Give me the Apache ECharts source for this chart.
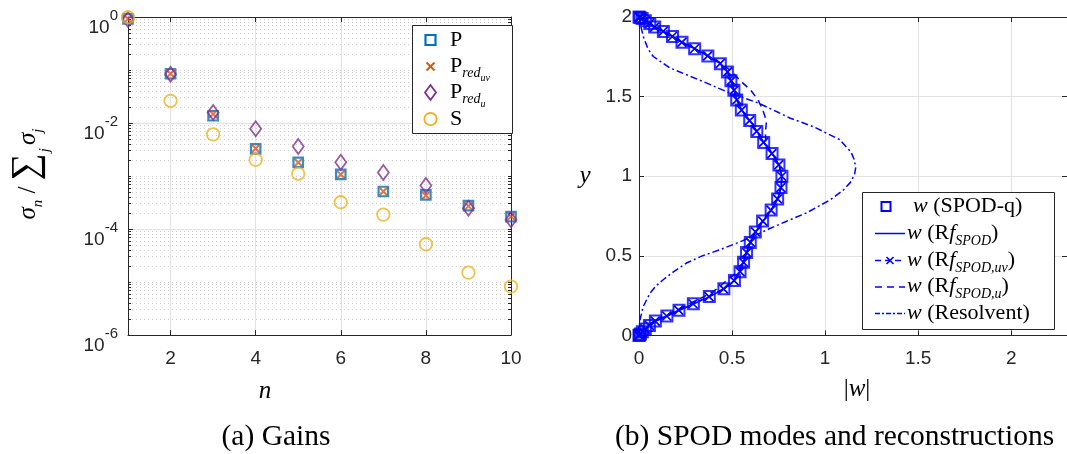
<!DOCTYPE html>
<html><head><meta charset="utf-8">
<script src="https://cdn.jsdelivr.net/npm/echarts@6/dist/echarts.min.js"></script>
<style>html,body{margin:0;padding:0;background:#fff}#c{width:1067px;height:454px}</style>
</head><body><div id="c"></div>
<script>
// ---------- data: (a) gains ----------
const nModes = [1, 2, 3, 4, 5, 6, 7, 8, 9, 10];
const gainP      = [0.92, 0.085, 0.0137, 0.00326, 0.0018, 0.00107, 0.00051, 0.00044, 0.000277, 0.000171];
const gainPredUV = [0.92, 0.085, 0.0147, 0.0033, 0.0018, 0.00107, 0.00051, 0.00043, 0.00027, 0.000171];
const gainPredU  = [0.90, 0.083, 0.0158, 0.0078, 0.0036, 0.00182, 0.00116, 0.00066, 0.000247, 0.000149];
const gainS      = [0.99, 0.0262, 0.0061, 0.00202, 0.0011, 0.00032, 0.000187, 0.0000515, 0.000015, 0.0000082];
const nTickValues = [2, 4, 6, 8, 10];
const logMajorTicks = [1e-6, 1e-4, 1e-2, 1];

// ---------- data: (b) SPOD modes ----------
const yGrid = [0, 0.0025, 0.0102, 0.0228, 0.0405, 0.0630, 0.0904, 0.1223, 0.1588, 0.1995, 0.2443, 0.2929, 0.3451, 0.4007, 0.4594,
  0.5207, 0.5846, 0.6505, 0.7183, 0.7874, 0.8577, 0.9287, 1.0, 1.0713, 1.1423, 1.2126, 1.2817, 1.3495, 1.4154, 1.4793,
  1.5406, 1.5994, 1.6549, 1.7071, 1.7557, 1.8005, 1.8412, 1.8777, 1.9096, 1.9370, 1.9595, 1.9772, 1.9898, 1.9975, 2.0];
const wSPODq = [0, 0.002, 0.008, 0.018, 0.034, 0.056, 0.088, 0.15, 0.215, 0.292, 0.378, 0.456, 0.513, 0.543, 0.562,
  0.578, 0.598, 0.625, 0.664, 0.71, 0.745, 0.763, 0.768, 0.752, 0.715, 0.67, 0.633, 0.595, 0.55, 0.525,
  0.51, 0.494, 0.475, 0.437, 0.37, 0.299, 0.231, 0.18, 0.131, 0.084, 0.058, 0.034, 0.017, 0.005, 0];
const wRfSPOD = [0, 0.002, 0.008, 0.019, 0.035, 0.057, 0.09, 0.152, 0.218, 0.295, 0.38, 0.458, 0.512, 0.542, 0.561,
  0.577, 0.597, 0.626, 0.666, 0.711, 0.746, 0.764, 0.769, 0.753, 0.716, 0.671, 0.634, 0.596, 0.552, 0.526,
  0.511, 0.495, 0.476, 0.439, 0.372, 0.3, 0.232, 0.181, 0.132, 0.085, 0.058, 0.034, 0.017, 0.005, 0];
const wRfSPODuv = [0, 0.002, 0.008, 0.018, 0.034, 0.055, 0.087, 0.149, 0.213, 0.29, 0.376, 0.454, 0.511, 0.543, 0.562,
  0.579, 0.599, 0.626, 0.665, 0.709, 0.744, 0.762, 0.767, 0.751, 0.714, 0.669, 0.632, 0.594, 0.551, 0.526,
  0.511, 0.495, 0.476, 0.436, 0.369, 0.298, 0.23, 0.179, 0.13, 0.084, 0.057, 0.034, 0.017, 0.005, 0];
const wRfSPODu = [0, 0.002, 0.008, 0.018, 0.033, 0.054, 0.085, 0.14, 0.2, 0.27, 0.35, 0.42, 0.47, 0.53, 0.56,
  0.578, 0.598, 0.626, 0.665, 0.71, 0.745, 0.763, 0.768, 0.752, 0.716, 0.68, 0.68, 0.685, 0.665, 0.64,
  0.60, 0.545, 0.50, 0.445, 0.372, 0.3, 0.232, 0.18, 0.131, 0.084, 0.058, 0.034, 0.017, 0.005, 0];
const yRes = [0, 0.03, 0.1, 0.18, 0.266, 0.31, 0.35, 0.40, 0.455, 0.50, 0.538, 0.58, 0.622, 0.67, 0.716, 0.77, 0.85, 0.91,
  0.96, 1.01, 1.05, 1.10, 1.15, 1.23, 1.31, 1.366, 1.40, 1.46, 1.523, 1.595, 1.68, 1.752, 1.80, 1.878, 1.95, 2.0];
const wRes = [0, 0.001, 0.006, 0.022, 0.059, 0.09, 0.13, 0.185, 0.255, 0.34, 0.434, 0.525, 0.612, 0.70, 0.79, 0.90, 1.025, 1.095,
  1.135, 1.158, 1.164, 1.158, 1.14, 1.078, 0.94, 0.81, 0.75, 0.64, 0.487, 0.344, 0.166, 0.077, 0.048, 0.023, 0.008, 0];
const wTickValues = [0, 0.5, 1, 1.5, 2];

// ---------- styling ----------
const axisColor = '#262626';
const gridCol = '#e2e2e2';
const minorCol = '#cfcfcf';
const tickFont = 'Liberation Sans';
const serif = 'Liberation Serif';
const cP = '#0072BD', cUV = '#D95319', cU = '#7E2F8E', cS = '#EDB120', blue = '#0000FF';
const xPath = 'path://M0,0L10,10M10,0L0,10';

const logMinor = [];
for (let e = -6; e < 0; e++) {
  for (let m = 2; m <= 9; m++) logMinor.push(+(m * Math.pow(10, e)).toPrecision(3));
  if (e % 2 !== 0) logMinor.push(Math.pow(10, e));
}
logMinor.sort((a, b) => a - b);

function supLabel(v) {
  const e = Math.round(Math.log10(v));
  return '{b|10}{s|' + e + '}';
}

const chart = echarts.init(document.getElementById('c'), null, {renderer: 'canvas'});

const tickLine = {color: axisColor, width: 1};
const option = {
  animation: false,
  backgroundColor: '#fff',
  grid: [
    {left: 128, top: 17, width: 383, height: 318},
    {left: 639, top: 17, width: 430, height: 318.5}
  ],
  xAxis: [
    {gridIndex: 0, type: 'value', min: 1, max: 10, position: 'bottom',
      axisLine: {show: true, onZero: false, lineStyle: tickLine},
      axisTick: {show: true, inside: true, length: 5, customValues: nTickValues, lineStyle: tickLine},
      axisLabel: {customValues: nTickValues, fontSize: 19, color: axisColor, margin: 14, fontFamily: tickFont},
      splitLine: {show: true, lineStyle: {color: gridCol}}},
    {gridIndex: 0, type: 'value', min: 1, max: 10, position: 'top',
      axisLine: {show: true, onZero: false, lineStyle: tickLine},
      axisTick: {show: true, inside: true, length: 5, customValues: nTickValues, lineStyle: tickLine},
      axisLabel: {show: false}, splitLine: {show: false}},
    {gridIndex: 1, type: 'value', min: 0, max: 2.3, position: 'bottom',
      axisLine: {show: true, onZero: false, lineStyle: tickLine},
      axisTick: {show: true, inside: true, length: 5, customValues: wTickValues, lineStyle: tickLine},
      axisLabel: {customValues: wTickValues, fontSize: 19, color: axisColor, margin: 14, fontFamily: tickFont},
      splitLine: {show: true, lineStyle: {color: gridCol}}},
    {gridIndex: 1, type: 'value', min: 0, max: 2.3, position: 'top',
      axisLine: {show: true, onZero: false, lineStyle: tickLine},
      axisTick: {show: true, inside: true, length: 5, customValues: wTickValues, lineStyle: tickLine},
      axisLabel: {show: false}, splitLine: {show: false}}
  ],
  yAxis: [
    {gridIndex: 0, type: 'log', logBase: 10, min: 1e-6, max: 1, position: 'left',
      axisLine: {show: true, onZero: false, lineStyle: tickLine},
      axisTick: {show: true, inside: true, length: 5, customValues: logMajorTicks, lineStyle: tickLine},
      axisLabel: {customValues: logMajorTicks, margin: 10, color: axisColor, formatter: supLabel,
        rich: {
          b: {fontSize: 19, fontFamily: tickFont, color: axisColor, lineHeight: 18, verticalAlign: 'top', padding: [10, 0, 0, 0]},
          s: {fontSize: 15, fontFamily: tickFont, color: axisColor, lineHeight: 15, verticalAlign: 'top', padding: [0, 0, 0, 0]}
        }},
      splitLine: {show: true, lineStyle: {color: gridCol}}},
    {gridIndex: 0, type: 'log', logBase: 10, min: 1e-6, max: 1, position: 'left',
      axisLine: {show: false},
      axisTick: {show: true, inside: true, length: 3, customValues: logMinor, lineStyle: tickLine},
      axisLabel: {show: false},
      splitLine: {show: true, lineStyle: {color: minorCol, type: [1, 3]}}},
    {gridIndex: 0, type: 'log', logBase: 10, min: 1e-6, max: 1, position: 'right',
      axisLine: {show: true, onZero: false, lineStyle: tickLine},
      axisTick: {show: true, inside: true, length: 3, customValues: logMinor.concat(logMajorTicks), lineStyle: tickLine},
      axisLabel: {show: false}, splitLine: {show: false}},
    {gridIndex: 1, type: 'value', min: 0, max: 2, interval: 0.5, position: 'left',
      axisLine: {show: true, onZero: false, lineStyle: tickLine},
      axisTick: {show: true, inside: true, length: 5, lineStyle: tickLine},
      axisLabel: {fontSize: 19, color: axisColor, margin: 7, fontFamily: tickFont},
      splitLine: {show: true, lineStyle: {color: gridCol}}},
    {gridIndex: 1, type: 'value', min: 0, max: 2, interval: 0.5, position: 'right',
      axisLine: {show: true, onZero: false, lineStyle: tickLine},
      axisTick: {show: true, inside: true, length: 5, lineStyle: tickLine},
      axisLabel: {show: false}, splitLine: {show: false}}
  ],
  series: [
    {name: 'P', type: 'scatter', xAxisIndex: 0, yAxisIndex: 0, clip: false, symbol: 'rect', symbolSize: 9.5,
      itemStyle: {color: 'none', borderColor: cP, borderWidth: 2.2}, data: nModes.map((n, i) => [n, gainP[i]])},
    {name: 'P_red_uv', type: 'scatter', xAxisIndex: 0, yAxisIndex: 0, clip: false, symbol: xPath, symbolSize: 8,
      itemStyle: {color: 'none', borderColor: cUV, borderWidth: 2}, data: nModes.map((n, i) => [n, gainPredUV[i]])},
    {name: 'P_red_u', type: 'scatter', xAxisIndex: 0, yAxisIndex: 0, clip: false, symbol: 'diamond', symbolSize: [11, 15],
      itemStyle: {color: 'none', borderColor: cU, borderWidth: 1.8}, data: nModes.map((n, i) => [n, gainPredU[i]])},
    {name: 'S', type: 'scatter', xAxisIndex: 0, yAxisIndex: 0, clip: false, symbol: 'circle', symbolSize: 12.5,
      itemStyle: {color: 'none', borderColor: cS, borderWidth: 1.8}, data: nModes.map((n, i) => [n, gainS[i]])},

    {name: 'w (SPOD-q)', type: 'scatter', xAxisIndex: 2, yAxisIndex: 3, clip: false, symbol: 'rect', symbolSize: 11,
      itemStyle: {color: 'none', borderColor: blue, borderWidth: 2}, data: yGrid.map((y, i) => [wSPODq[i], y])},
    {name: 'w (Rf_SPOD)', type: 'line', xAxisIndex: 2, yAxisIndex: 3, clip: false, showSymbol: false, symbol: 'none',
      lineStyle: {color: blue, width: 1.5}, data: yGrid.map((y, i) => [wRfSPOD[i], y])},
    {name: 'w (Rf_SPOD,uv)', type: 'line', xAxisIndex: 2, yAxisIndex: 3, clip: false, showSymbol: true, showAllSymbol: true,
      symbol: xPath, symbolSize: 9, itemStyle: {color: 'none', borderColor: blue, borderWidth: 1.7},
      lineStyle: {color: blue, width: 1.5, type: [6, 4]}, data: yGrid.map((y, i) => [wRfSPODuv[i], y])},
    {name: 'w (Rf_SPOD,u)', type: 'line', xAxisIndex: 2, yAxisIndex: 3, clip: false, showSymbol: false, symbol: 'none',
      lineStyle: {color: blue, width: 1.5, type: [7, 5]}, data: yGrid.map((y, i) => [wRfSPODu[i], y])},
    {name: 'w (Resolvent)', type: 'line', xAxisIndex: 2, yAxisIndex: 3, clip: false, showSymbol: false, symbol: 'none',
      lineStyle: {color: blue, width: 1.5, type: [7, 3, 2, 3]}, data: yRes.map((y, i) => [wRes[i], y])}
  ],
  graphic: []
};

// ---- legends & labels built as graphic elements ----
const G = [];
// (a) legend box
G.push({type: 'rect', z: 100, shape: {x: 412.5, y: 25.5, width: 100, height: 108}, style: {fill: '#fff', stroke: axisColor, lineWidth: 1}});
const legA = [
  {y: 40, text: '{n|P}'},
  {y: 66.5, text: '{n|P}{s|red}{ss|uv}'},
  {y: 92.5, text: '{n|P}{s|red}{ss|u}'},
  {y: 119, text: '{n|S}'}
];
const richA = {
  n: {fontSize: 22, fontFamily: serif, lineHeight: 24, verticalAlign: 'top', fill: '#000'},
  s: {fontSize: 14, fontFamily: serif, fontStyle: 'italic', lineHeight: 14, verticalAlign: 'top', padding: [11, 0, 0, 0], fill: '#000'},
  ss: {fontSize: 10, fontFamily: serif, fontStyle: 'italic', lineHeight: 10, verticalAlign: 'top', padding: [18, 0, 0, 0], fill: '#000'}
};
legA.forEach(it => G.push({type: 'text', z: 101, x: 450, y: it.y + 1, style: {text: it.text, rich: richA, verticalAlign: 'middle', align: 'left'}}));
G.push({type: 'rect', z: 101, shape: {x: 425.5, y: 35, width: 10, height: 10}, style: {fill: 'none', stroke: cP, lineWidth: 2.2}});
G.push({type: 'polyline', z: 101, shape: {points: [[426.5, 62.5], [434.5, 70.5]]}, style: {stroke: cUV, lineWidth: 2}});
G.push({type: 'polyline', z: 101, shape: {points: [[434.5, 62.5], [426.5, 70.5]]}, style: {stroke: cUV, lineWidth: 2}});
G.push({type: 'polygon', z: 101, shape: {points: [[430.5, 85], [436, 92.5], [430.5, 100], [425, 92.5]]}, style: {fill: 'none', stroke: cU, lineWidth: 1.8}});
G.push({type: 'circle', z: 101, shape: {cx: 430.5, cy: 119, r: 6.2}, style: {fill: 'none', stroke: cS, lineWidth: 1.8}});

// (b) legend box
G.push({type: 'rect', z: 100, shape: {x: 862.5, y: 192.5, width: 192, height: 137}, style: {fill: '#fff', stroke: axisColor, lineWidth: 1}});
const richB = {
  n: {fontSize: 22, fontFamily: serif, lineHeight: 24, verticalAlign: 'top', fill: '#000'},
  i: {fontSize: 22, fontFamily: serif, fontStyle: 'italic', lineHeight: 24, verticalAlign: 'top', fill: '#000'},
  s: {fontSize: 14, fontFamily: serif, fontStyle: 'italic', lineHeight: 14, verticalAlign: 'top', padding: [12, 0, 0, 0], fill: '#000'}
};
const legB = [
  {y: 206.7, x: 913, text: '{i|w}{n| (SPOD-q)}'},
  {y: 233.3, x: 907, text: '{i|w}{n| (R}{i|f}{s|SPOD}{n|)}'},
  {y: 260, x: 907, text: '{i|w}{n| (R}{i|f}{s|SPOD,uv}{n|)}'},
  {y: 286.7, x: 907, text: '{i|w}{n| (R}{i|f}{s|SPOD,u}{n|)}'},
  {y: 313.3, x: 907, text: '{i|w}{n| (Resolvent)}'}
];
legB.forEach(it => G.push({type: 'text', z: 101, x: it.x, y: it.y + 1, style: {text: it.text, rich: richB, verticalAlign: 'middle', align: 'left'}}));
G.push({type: 'rect', z: 101, shape: {x: 881.5, y: 202, width: 9, height: 9}, style: {fill: 'none', stroke: blue, lineWidth: 2}});
G.push({type: 'polyline', z: 101, shape: {points: [[875, 233.5], [905, 233.5]]}, style: {stroke: blue, lineWidth: 1.5}});
G.push({type: 'polyline', z: 101, shape: {points: [[875, 260.5], [905, 260.5]]}, style: {stroke: blue, lineWidth: 1.5, lineDash: [6, 4]}});
G.push({type: 'polyline', z: 101, shape: {points: [[886.5, 257], [893.5, 264]]}, style: {stroke: blue, lineWidth: 1.6}});
G.push({type: 'polyline', z: 101, shape: {points: [[893.5, 257], [886.5, 264]]}, style: {stroke: blue, lineWidth: 1.6}});
G.push({type: 'polyline', z: 101, shape: {points: [[875, 287], [905, 287]]}, style: {stroke: blue, lineWidth: 1.5, lineDash: [7, 5]}});
G.push({type: 'polyline', z: 101, shape: {points: [[875, 313.5], [905, 313.5]]}, style: {stroke: blue, lineWidth: 1.5, lineDash: [5, 2, 2, 2]}});

// axis titles
const richT = {
  n: {fontSize: 25, fontFamily: serif, fill: '#000'},
  i: {fontSize: 25, fontFamily: serif, fontStyle: 'italic', fill: '#000'}
};
G.push({type: 'text', x: 265, y: 391, style: {text: '{i|n}', rich: richT, align: 'center', verticalAlign: 'middle'}});
G.push({type: 'text', x: 585, y: 176, style: {text: '{i|y}', rich: richT, align: 'center', verticalAlign: 'middle'}});
G.push({type: 'text', x: 857, y: 389, style: {text: '{n||}{i|w}{n||}', rich: richT, align: 'center', verticalAlign: 'middle'}});
G.push({type: 'text', x: 28, y: 174, rotation: Math.PI / 2, style: {
  text: '{s|σ}{sub|n}{n| / }{big|∑}{subj|j}{s|σ}{sub|j}', align: 'center', verticalAlign: 'middle',
  rich: {
    s: {fontSize: 25, fontFamily: serif, fontStyle: 'italic', lineHeight: 40, verticalAlign: 'top', padding: [8, 0, 0, 0], fill: '#000'},
    n: {fontSize: 25, fontFamily: serif, lineHeight: 40, verticalAlign: 'top', padding: [8, 0, 0, 0], fill: '#000'},
    sub: {fontSize: 15, fontFamily: serif, fontStyle: 'italic', lineHeight: 15, verticalAlign: 'top', padding: [23, 0, 0, 0], fill: '#000'},
    subj: {fontSize: 15, fontFamily: serif, fontStyle: 'italic', lineHeight: 15, verticalAlign: 'top', padding: [30, 3, 0, 1], fill: '#000'},
    big: {fontSize: 38, fontFamily: serif, lineHeight: 40, verticalAlign: 'top', padding: [0, 0, 0, 0], fill: '#000'}
  }}});
// captions
G.push({type: 'text', x: 276, y: 437, style: {text: '(a) Gains', fontSize: 29.5, fontFamily: serif, fill: '#000', align: 'center', verticalAlign: 'middle'}});
G.push({type: 'text', x: 615, y: 437, style: {text: '(b) SPOD modes and reconstructions', fontSize: 29.5, fontFamily: serif, fill: '#000', align: 'left', verticalAlign: 'middle'}});

option.graphic = G;
chart.setOption(option);
</script>
</body></html>
